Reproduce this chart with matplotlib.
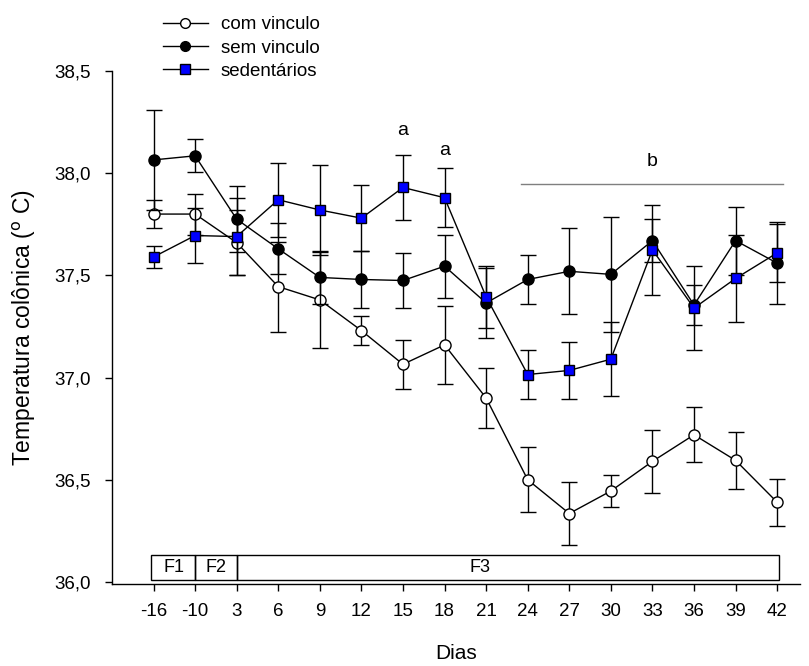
import numpy as np
import matplotlib
matplotlib.use("Agg")
import matplotlib.pyplot as plt
from matplotlib.patches import Rectangle
from matplotlib.lines import Line2D

plt.rcParams['font.family'] = ['Liberation Sans', 'DejaVu Sans']

days = ['-16', '-10', '3', '6', '9', '12', '15', '18', '21', '24', '27', '30', '33', '36', '39', '42']

com_vinculo = [37.80, 37.80, 37.66, 37.445, 37.38, 37.23, 37.065, 37.16, 36.90, 36.50,
               36.335, 36.445, 36.59, 36.72, 36.595, 36.39]
com_err = [0.07, 0.10, 0.16, 0.22, 0.235, 0.07, 0.12, 0.19, 0.145, 0.16,
           0.155, 0.08, 0.155, 0.135, 0.14, 0.115]

sem_vinculo = [38.065, 38.085, 37.775, 37.63, 37.49, 37.48, 37.475, 37.545, 37.365, 37.48,
               37.52, 37.505, 37.67, 37.355, 37.67, 37.56]
sem_err = [0.245, 0.08, 0.16, 0.125, 0.13, 0.14, 0.135, 0.155, 0.17, 0.12,
           0.21, 0.28, 0.105, 0.10, 0.167, 0.20]

sedentarios = [37.59, 37.695, 37.69, 37.87, 37.82, 37.78, 37.93, 37.88, 37.395, 37.015,
               37.035, 37.09, 37.625, 37.34, 37.485, 37.61]
sed_err = [0.055, 0.135, 0.19, 0.18, 0.22, 0.16, 0.16, 0.145, 0.15, 0.12,
           0.14, 0.18, 0.22, 0.205, 0.215, 0.14]

y_ticks = [36.0, 36.5, 37.0, 37.5, 38.0, 38.5]
y_labels = ['36,0', '36,5', '37,0', '37,5', '38,0', '38,5']

phases = [('F1', -0.05, 1.0, 0.5), ('F2', 1.0, 2.0, 1.5), ('F3', 2.0, 15.05, 7.86)]

x = np.arange(len(days))

fig = plt.figure(figsize=(8.09, 6.66), dpi=100)
ax = fig.add_axes([0.1384, 0.1231, 0.8505, 0.7703])

common = dict(color='black', ecolor='black', elinewidth=1.0, capsize=5.5,
              capthick=1.0, linewidth=1.0, markersize=8, markeredgewidth=1.0)

ax.errorbar(x, com_vinculo, yerr=com_err, marker='o', markerfacecolor='white',
            markeredgecolor='black', zorder=3, **common)
ax.errorbar(x, sem_vinculo, yerr=sem_err, marker='o', markerfacecolor='black',
            markeredgecolor='black', zorder=4, **common)
ax.errorbar(x, sedentarios, yerr=sed_err, marker='s', markerfacecolor='#0000ff',
            markeredgecolor='black', zorder=5,
            **{**common, 'markersize': 7.5})

# phase boxes
for name, x0, x1, xt in phases:
    ax.add_patch(Rectangle((x0, 36.01), x1 - x0, 0.12, fill=False,
                           edgecolor='black', linewidth=1.0, zorder=2))
    ax.text(xt, 36.072, name, ha='center', va='center', fontsize=13)

# significance marks
ax.text(6, 38.21, 'a', ha='center', va='center', fontsize=14)
ax.text(7, 38.11, 'a', ha='center', va='center', fontsize=14)
ax.plot([8.85, 15.14], [37.947, 37.947], color='#7f7f7f', linewidth=1.0)
ax.text(12.0, 38.055, 'b', ha='center', va='center', fontsize=14)

ax.set_xlim(-1, 15.55)
ax.set_ylim(35.99, 38.5)
ax.set_xticks(x)
ax.set_xticklabels(days, fontsize=13.5)
ax.set_yticks(y_ticks)
ax.set_yticklabels(y_labels, fontsize=13.5)
ax.tick_params(direction='out', length=5, width=1.0)
ax.tick_params(axis='x', pad=9)
ax.tick_params(axis='y', pad=10)

for side in ['top', 'right']:
    ax.spines[side].set_visible(False)
for side in ['left', 'bottom']:
    ax.spines[side].set_linewidth(1.0)

ax.set_ylabel(r'Temperatura colônica ($^{\mathrm{o}}$ C)', fontsize=16.5, labelpad=12)
ax.set_xlabel('Dias', fontsize=15, labelpad=17)

handles = [
    Line2D([], [], color='black', lw=1.0, marker='o', markersize=7,
           markerfacecolor='white', markeredgecolor='black'),
    Line2D([], [], color='black', lw=1.0, marker='o', markersize=7,
           markerfacecolor='black', markeredgecolor='black'),
    Line2D([], [], color='black', lw=1.0, marker='s', markersize=6.5,
           markerfacecolor='#0000ff', markeredgecolor='black'),
]
labels = ['com vinculo', 'sem vinculo', 'sedentários']
fig.legend(handles, labels, loc='upper left', bbox_to_anchor=(0.178, 1.004), frameon=False,
           fontsize=13.5, handlelength=2.4, handletextpad=0.7, labelspacing=0.33,
           borderpad=0.5)

fig.savefig('out.png', dpi=100)
